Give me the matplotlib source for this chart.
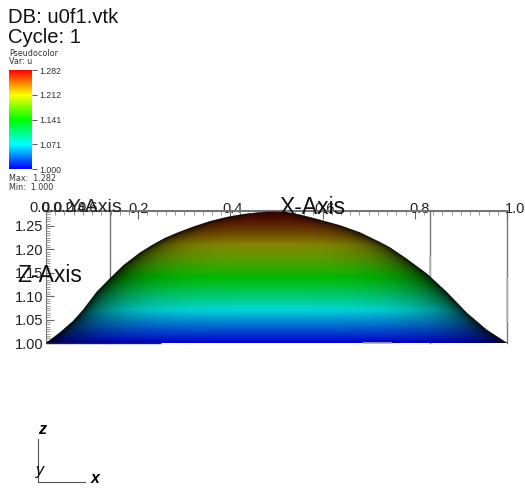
import numpy as np
import matplotlib
matplotlib.use('Agg')
import matplotlib.pyplot as plt
from matplotlib.colors import LinearSegmentedColormap, Normalize
from matplotlib.cm import ScalarMappable
from matplotlib.ticker import MultipleLocator
from matplotlib.transforms import ScaledTranslation

# profile of the dome
x_profile = [0.0, 0.030, 0.059, 0.080, 0.110, 0.139, 0.167, 0.204, 0.232, 0.258, 0.284,
             0.319, 0.356, 0.393, 0.427, 0.464, 0.508, 0.551, 0.594, 0.638, 0.681, 0.725,
             0.746, 0.782, 0.826, 0.869, 0.913, 0.956, 1.0]
u_profile = [1.0, 1.022, 1.047, 1.070, 1.109, 1.138, 1.165, 1.193, 1.210, 1.224, 1.235,
             1.248, 1.260, 1.269, 1.275, 1.279, 1.282, 1.274, 1.263, 1.251, 1.236, 1.215,
             1.204, 1.180, 1.148, 1.109, 1.064, 1.028, 1.0]
peak = 16
u_min = 1.0
u_max = 1.282

cbar_ticks = [1.000, 1.071, 1.141, 1.212, 1.282]
cbar_labels = ['1.000', '1.071', '1.141', '1.212', '1.282']
rainbow = ['#0000ff', '#00ffff', '#00ff00', '#ffff00', '#ff0000']

# brightness of the lit surface along the middle of the dome
shade_u = [1.0, 1.07, 1.14, 1.21, 1.25, 1.282]
shade_v = [0.80, 0.84, 0.73, 0.52, 0.38, 0.20]

xtick_values = [0.2, 0.4, 0.6, 0.8, 1.0]
xtick_shift = [0, 2, 2, 5, 8]
ytick_values = [1.00, 1.05, 1.10, 1.15, 1.20, 1.25]
crowded_labels = ['0.0', '0.0', '0.2', '0.4', '0.6']
back_lines = [0.139, 0.833, 1.0]

W, H = 525, 490
fig = plt.figure(figsize=(W / 100, H / 100), dpi=100)
plt.rcParams['font.family'] = ['Liberation Sans', 'DejaVu Sans']
cmap = LinearSegmentedColormap.from_list('hot_rainbow', rainbow)
norm = Normalize(u_min, u_max)

ax = fig.add_axes([46 / W, 1 - 343 / H, 461 / W, 132 / H])
ax.set_xlim(0, 1)
ax.set_ylim(u_min, u_max)

# rows are u, columns are x; the dome gets darker towards its outline
xx = np.linspace(0, 1, 500)
uu = np.linspace(u_min, u_max, 300)
X, U = np.meshgrid(xx, uu)
left = np.interp(uu, u_profile[:peak + 1], x_profile[:peak + 1])
right = np.interp(uu, u_profile[:peak - 1:-1], x_profile[:peak - 1:-1])
centre = (left + right) / 2
half = np.maximum((right - left) / 2, 1e-3)
t = np.clip(np.abs(X - centre[:, None]) / half[:, None], 0, 1)
light = np.sqrt(1 - t ** 4)
rgb = cmap(norm(U))[:, :, :3] * (np.interp(U, shade_u, shade_v) * light)[:, :, None]

im = ax.imshow(rgb, origin='lower', extent=[0, 1, u_min, u_max], aspect='auto', zorder=2,
               interpolation='bilinear')
poly = ax.fill_between(x_profile, u_profile, u_min, color='none', zorder=2)
im.set_clip_path(poly.get_paths()[0], transform=ax.transData)
ax.plot(x_profile, u_profile, color='black', lw=0.4, alpha=0.7, zorder=3)

for bx in back_lines:
    ax.axvline(bx, color='#777777', lw=1, zorder=1, clip_on=False)
ax.vlines(0.833, 1.144, 1.186, color='#bbbbbb', lw=1.2, zorder=1)
ax.vlines(1.0, 1.044, 1.138, color='#bbbbbb', lw=1.2, zorder=1, clip_on=False)
ax.hlines(u_min, 0, 0.25, color='#222222', lw=1, zorder=3, clip_on=False)
ax.hlines(u_min, 0.687, 0.75, color='#aaaaaa', lw=1.2, zorder=3, clip_on=False)

for side in ['right', 'bottom']:
    ax.spines[side].set_visible(False)
ax.spines['left'].set_color('#777777')
ax.spines['top'].set_color('#777777')
ax.spines['top'].set_linewidth(1.5)
ax.xaxis.tick_top()
ax.set_xticks(xtick_values)
ax.set_xticklabels(['%.1f' % v for v in xtick_values])
ax.xaxis.set_minor_locator(MultipleLocator(0.02))
ax.set_yticks(ytick_values)
ax.set_yticklabels(['%.2f' % v for v in ytick_values])
ax.yaxis.set_minor_locator(MultipleLocator(0.005))
ax.tick_params(axis='both', which='major', direction='in', length=6, color='#666666',
               labelsize=10.5, labelcolor='#222222', pad=2)
ax.tick_params(axis='x', which='major', pad=-3.5)
ax.tick_params(axis='both', which='minor', direction='in', length=3, color='#888888', width=0.6)
for lab, dx in zip(ax.get_xticklabels(), xtick_shift):
    lab.set_transform(lab.get_transform() + ScaledTranslation(dx / 100, 0, fig.dpi_scale_trans))

# squeezed tick labels of the y axis seen end on
for i, lab in enumerate(crowded_labels):
    fig.text((40 + i * 12) / W, 1 - 208 / H, lab, fontsize=10.5, color='#222222',
             ha='center', va='center')
fig.text(95 / W, 1 - 207 / H, 'Y-Axis', fontsize=14, color='#222222', ha='center', va='center')
fig.text(313 / W, 1 - 207 / H, 'X-Axis', fontsize=16.5, color='#111111', ha='center', va='center')
fig.text(17 / W, 1 - 275 / H, 'Z-Axis', fontsize=16.5, color='#111111', ha='left', va='center')

fig.text(8 / W, 1 - 23 / H, 'DB: u0f1.vtk', fontsize=14.6, va='baseline', color='#111111')
fig.text(8 / W, 1 - 43 / H, 'Cycle: 1', fontsize=14.6, va='baseline', color='#111111')
fig.text(9 / W, 1 - 54 / H, 'Pseudocolor', fontsize=5.8, family='DejaVu Sans', color='#333333', va='center')
fig.text(9 / W, 1 - 62 / H, 'Var: u', fontsize=5.8, family='DejaVu Sans', color='#333333', va='center')
fig.text(9 / W, 1 - 178 / H, 'Max:  1.282', fontsize=5.8, family='DejaVu Sans', color='#333333', va='center')
fig.text(9 / W, 1 - 187 / H, 'Min:  1.000', fontsize=5.8, family='DejaVu Sans', color='#333333', va='center')

# legend bar
cax = fig.add_axes([9 / W, 1 - 169 / H, 23 / W, 99 / H])
cb = fig.colorbar(ScalarMappable(norm=norm, cmap=cmap), cax=cax)
cb.outline.set_visible(False)
cb.set_ticks(cbar_ticks)
cb.set_ticklabels(cbar_labels)
cb.ax.tick_params(length=3.5, width=0.7, color='#555555', labelsize=6.3, labelcolor='#333333', pad=1.5)
cb.ax.minorticks_off()

# axis triad
tax = fig.add_axes([38 / W, 1 - 482 / H, 47 / W, 43 / H])
tax.patch.set_visible(False)
tax.set_xticks([])
tax.set_yticks([])
for side in ['right', 'top']:
    tax.spines[side].set_visible(False)
for side in ['left', 'bottom']:
    tax.spines[side].set_color('#555555')
fig.text(42 / W, 1 - 429 / H, 'z', fontsize=11.5, style='italic', ha='center', va='center', weight='bold')
fig.text(95 / W, 1 - 478 / H, 'x', fontsize=11.5, style='italic', ha='center', va='center', weight='bold')
fig.text(40 / W, 1 - 470 / H, 'y', fontsize=11.5, style='italic', ha='center', va='center')

fig.savefig('out.png', dpi=100)
